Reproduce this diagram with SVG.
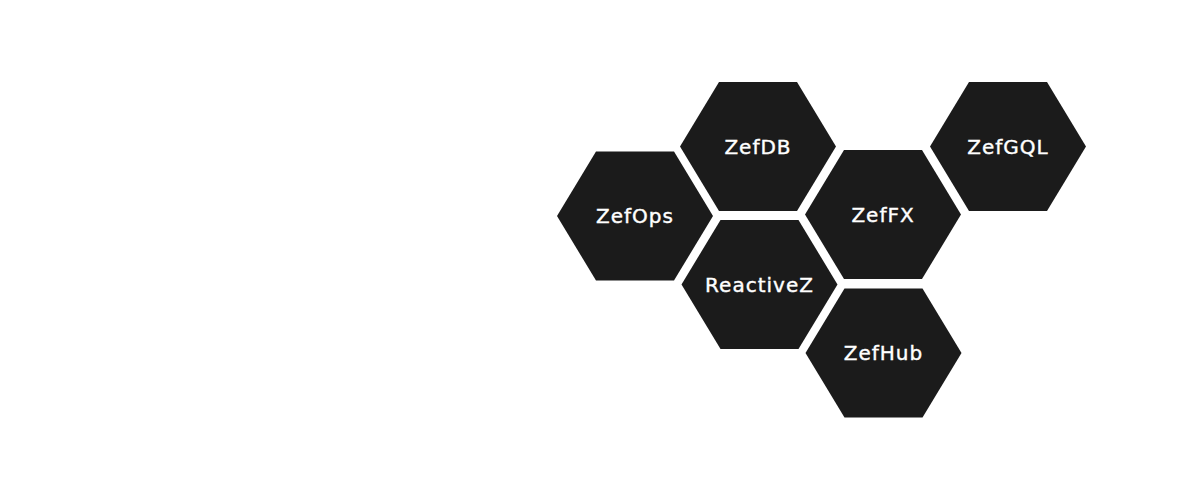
<svg xmlns="http://www.w3.org/2000/svg" width="1200" height="500" viewBox="0 0 1200 500">
<defs>
<style>
.hex{fill:#1b1b1b;}
.lbl{fill:#ffffff;stroke:#ffffff;stroke-width:0.4px;font-family:"DejaVu Sans",sans-serif;font-size:20px;letter-spacing:1px;text-anchor:middle;}
</style>
<polygon id="hexshape" points="-78,0 -39,-64.5 39,-64.5 78,0 39,64.5 -39,64.5"/>
</defs>
<rect width="1200" height="500" fill="#ffffff"/>
<g id="connectors"></g>
<g id="ZefOps" transform="translate(635,216)"><use href="#hexshape" class="hex"/><text class="lbl" x="0" y="7">ZefOps</text></g>
<g id="ZefDB" transform="translate(758,146.5)"><use href="#hexshape" class="hex"/><text class="lbl" x="0" y="7">ZefDB</text></g>
<g id="ReactiveZ" transform="translate(759.5,284.5)"><use href="#hexshape" class="hex"/><text class="lbl" x="0" y="7">ReactiveZ</text></g>
<g id="ZefFX" transform="translate(883,214.5)"><use href="#hexshape" class="hex"/><text class="lbl" x="0" y="7">ZefFX</text></g>
<g id="ZefHub" transform="translate(883.5,353)"><use href="#hexshape" class="hex"/><text class="lbl" x="0" y="7">ZefHub</text></g>
<g id="ZefGQL" transform="translate(1008,146.5)"><use href="#hexshape" class="hex"/><text class="lbl" x="0" y="7">ZefGQL</text></g>
</svg>
